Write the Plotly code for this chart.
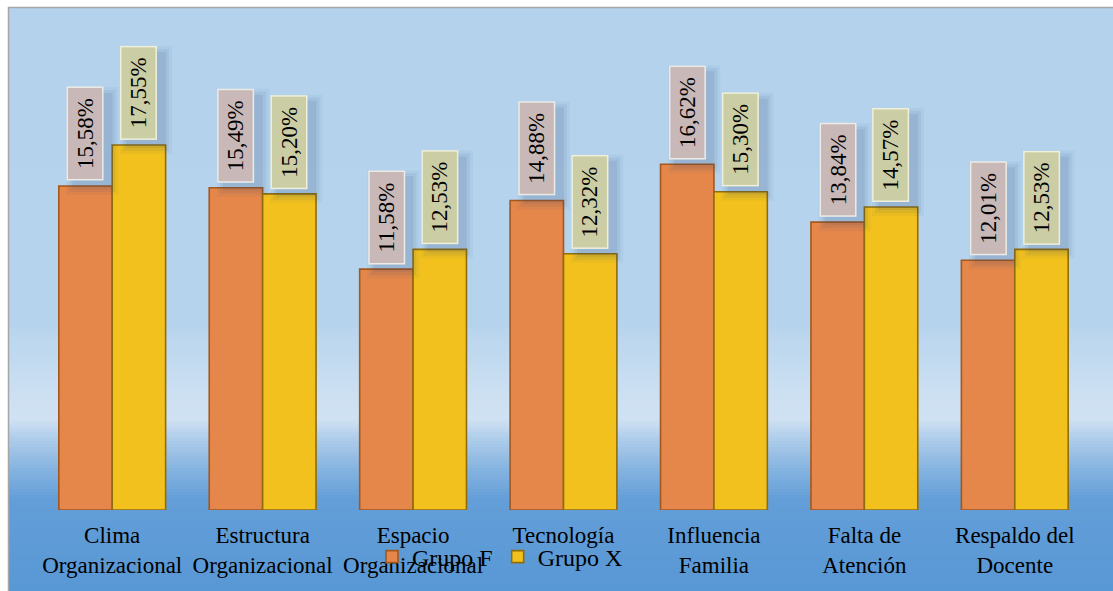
import plotly.graph_objects as go

# Category labels and percentage values for each group
categorias = [
    "Clima<br>Organizacional",
    "Estructura<br>Organizacional",
    "Espacio<br>Organizacional",
    "Tecnología",
    "Influencia<br>Familia",
    "Falta de<br>Atención",
    "Respaldo del<br>Docente",
]
grupo_f = [15.58, 15.49, 11.58, 14.88, 16.62, 13.84, 12.01]
grupo_x = [17.55, 15.20, 12.53, 12.32, 15.30, 14.57, 12.53]

W, H = 1113, 591
PX_L, PX_R, PX_T, PX_B = 37, 1090, 20, 510
SERIF = "Liberation Serif, Times New Roman, serif"
BARGAP = 0.29
OFFSET = (1 - BARGAP) / 4  # centre of each bar relative to its category


def paper_x(px):
    return (px - PX_L) / (PX_R - PX_L)


def paper_y(py):
    return (PX_B - py) / (PX_B - PX_T)


fig = go.Figure()
fig.add_trace(go.Bar(
    name="Grupo F", x=list(range(len(categorias))), y=grupo_f,
    marker=dict(color="#E5864A", line=dict(color="#A3581E", width=1.6)),
))
fig.add_trace(go.Bar(
    name="Grupo X", x=list(range(len(categorias))), y=grupo_x,
    marker=dict(color="#F3C11D", line=dict(color="#8F6D0C", width=1.6)),
))

shapes = []

# Vertical background gradient of the chart frame
stops = [
    (7, (180, 210, 236)), (320, (181, 211, 237)), (395, (205, 224, 242)),
    (420, (207, 225, 242)), (440, (172, 203, 234)), (470, (132, 179, 224)),
    (500, (99, 158, 216)), (591, (88, 152, 213)),
]


def colour_at(py):
    for (a, ca), (b, cb) in zip(stops[:-1], stops[1:]):
        if a <= py <= b:
            t = (py - a) / (b - a) if b > a else 0
            return tuple(round(ca[k] + (cb[k] - ca[k]) * t) for k in range(3))
    return stops[-1][1]


py = 7
while py < H:
    step = 20 if py < 310 else 3
    top, bot = py, min(py + step, H)
    c = colour_at((top + bot) / 2)
    shapes.append(dict(
        type="rect", xref="paper", yref="paper", layer="below",
        x0=paper_x(8), x1=paper_x(W + 2), y0=paper_y(bot + 0.6), y1=paper_y(top),
        fillcolor=f"rgb{c}", line=dict(width=0),
    ))
    py = bot

# Frame border (top and left edges)
shapes.append(dict(type="line", xref="paper", yref="paper", layer="below",
                   x0=paper_x(8), x1=paper_x(W + 2), y0=paper_y(7.5), y1=paper_y(7.5),
                   line=dict(color="#A6A6A6", width=1.5)))
shapes.append(dict(type="line", xref="paper", yref="paper", layer="below",
                   x0=paper_x(8.5), x1=paper_x(8.5), y0=paper_y(7), y1=paper_y(H + 2),
                   line=dict(color="#A6A6A6", width=1.5)))

# Soft drop shadows behind the value boxes
for vals, sign in ((grupo_f, -1), (grupo_x, 1)):
    for i, v in enumerate(vals):
        for grow, op in ((7, 0.05), (4, 0.07), (1, 0.09)):
            shapes.append(dict(
                type="rect", xref="x", yref="y", layer="above",
                xsizemode="pixel", ysizemode="pixel",
                xanchor=i + sign * OFFSET, yanchor=v,
                x0=-12 - grow, x1=26 + grow, y0=-2 - grow, y1=92 + grow,
                fillcolor=f"rgba(40,70,110,{op})", line=dict(width=0),
            ))

annotations = []
for vals, bg, border, sign in ((grupo_f, "#C8B8B7", "#ECEBE6", -1),
                               (grupo_x, "#CBCDA5", "#EEF0DA", 1)):
    for i, v in enumerate(vals):
        annotations.append(dict(
            x=i + sign * OFFSET, y=v, xref="x", yref="y",
            text=f"{v:.2f}%".replace(".", ","), showarrow=False,
            textangle=-90, yanchor="bottom", yshift=5,
            width=89, height=32, borderpad=1,
            bgcolor=bg, bordercolor=border, borderwidth=1.5,
            font=dict(family=SERIF, size=23, color="#000000"),
        ))

fig.update_layout(
    width=W, height=H,
    margin=dict(l=PX_L, r=W - PX_R, t=PX_T, b=H - PX_B),
    paper_bgcolor="#FFFFFF", plot_bgcolor="rgba(0,0,0,0)",
    barmode="group", bargap=BARGAP, bargroupgap=0,
    shapes=shapes, annotations=annotations,
    showlegend=True,
    legend=dict(
        orientation="h", x=paper_x(372), y=paper_y(557),
        xanchor="left", yanchor="middle",
        bgcolor="rgba(0,0,0,0)", borderwidth=0,
        font=dict(family=SERIF, size=24, color="#000000"),
        itemwidth=30,
    ),
    xaxis=dict(
        tickmode="array", tickvals=list(range(len(categorias))), ticktext=categorias,
        range=[-0.5, len(categorias) - 0.5],
        showgrid=False, zeroline=False, showline=False, ticks="",
        ticklabelstandoff=9,
        tickfont=dict(family=SERIF, size=23, color="#000000"),
    ),
    yaxis=dict(
        range=[0, (PX_B - PX_T) / 20.8], visible=False,
        showgrid=False, zeroline=False,
    ),
)

fig.write_html("out.html")
